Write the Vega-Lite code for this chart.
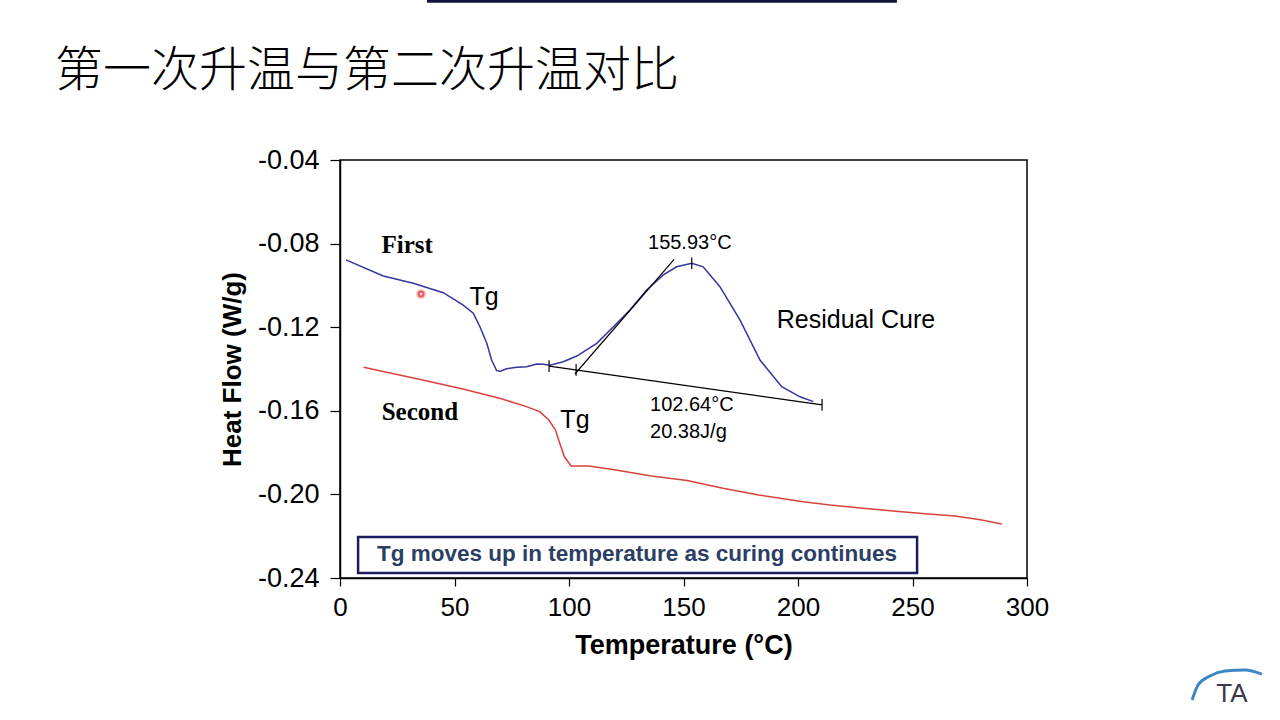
{
  "$schema": "https://vega.github.io/schema/vega-lite/v6.json",
  "width": 687,
  "height": 418,
  "autosize": {"type": "none"},
  "padding": {"left": 340, "top": 160, "right": 253, "bottom": 142},
  "background": "white",
  "config": {
    "view": {"stroke": "black", "strokeWidth": 1.5},
    "axis": {"grid": false, "domainColor": "black", "tickColor": "black", "labelColor": "black", "titleColor": "black", "labelFont": "Liberation Sans", "titleFont": "Liberation Sans", "labelFontSize": 26, "titleFontSize": 26, "titleFontWeight": "bold", "domainWidth": 1.5, "tickWidth": 1.2, "labelFlush": false}
  },
  "datasets": {
    "curves": [
      {"series": "First", "t": 2.6, "hf": -0.0878},
      {"series": "First", "t": 18.9, "hf": -0.0955},
      {"series": "First", "t": 32.0, "hf": -0.0990},
      {"series": "First", "t": 45.1, "hf": -0.1035},
      {"series": "First", "t": 53.8, "hf": -0.1094},
      {"series": "First", "t": 58.2, "hf": -0.1133},
      {"series": "First", "t": 61.1, "hf": -0.1198},
      {"series": "First", "t": 64.1, "hf": -0.1277},
      {"series": "First", "t": 66.2, "hf": -0.1357},
      {"series": "First", "t": 68.4, "hf": -0.1408},
      {"series": "First", "t": 69.9, "hf": -0.1411},
      {"series": "First", "t": 72.8, "hf": -0.1399},
      {"series": "First", "t": 77.2, "hf": -0.1392},
      {"series": "First", "t": 81.5, "hf": -0.1389},
      {"series": "First", "t": 85.9, "hf": -0.1376},
      {"series": "First", "t": 88.8, "hf": -0.1377},
      {"series": "First", "t": 91.7, "hf": -0.1382},
      {"series": "First", "t": 97.5, "hf": -0.1365},
      {"series": "First", "t": 103.4, "hf": -0.1338},
      {"series": "First", "t": 112.1, "hf": -0.1277},
      {"series": "First", "t": 119.4, "hf": -0.1198},
      {"series": "First", "t": 126.6, "hf": -0.1118},
      {"series": "First", "t": 133.9, "hf": -0.1022},
      {"series": "First", "t": 141.2, "hf": -0.0950},
      {"series": "First", "t": 147.0, "hf": -0.0911},
      {"series": "First", "t": 153.6, "hf": -0.0894},
      {"series": "First", "t": 158.6, "hf": -0.0911},
      {"series": "First", "t": 165.9, "hf": -0.1006},
      {"series": "First", "t": 174.7, "hf": -0.1166},
      {"series": "First", "t": 183.4, "hf": -0.1357},
      {"series": "First", "t": 192.9, "hf": -0.1485},
      {"series": "First", "t": 200.9, "hf": -0.1533},
      {"series": "First", "t": 206.7, "hf": -0.1556},
      {"series": "Second", "t": 10.3, "hf": -0.1392},
      {"series": "Second", "t": 34.6, "hf": -0.1449},
      {"series": "Second", "t": 54.1, "hf": -0.1497},
      {"series": "Second", "t": 69.7, "hf": -0.1540},
      {"series": "Second", "t": 81.4, "hf": -0.1580},
      {"series": "Second", "t": 87.2, "hf": -0.1604},
      {"series": "Second", "t": 91.2, "hf": -0.1644},
      {"series": "Second", "t": 94.1, "hf": -0.1692},
      {"series": "Second", "t": 96.0, "hf": -0.1756},
      {"series": "Second", "t": 98.0, "hf": -0.1820},
      {"series": "Second", "t": 100.9, "hf": -0.1864},
      {"series": "Second", "t": 108.7, "hf": -0.1864},
      {"series": "Second", "t": 120.4, "hf": -0.1883},
      {"series": "Second", "t": 136.0, "hf": -0.1912},
      {"series": "Second", "t": 151.6, "hf": -0.1934},
      {"series": "Second", "t": 167.2, "hf": -0.1971},
      {"series": "Second", "t": 182.8, "hf": -0.2003},
      {"series": "Second", "t": 202.3, "hf": -0.2035},
      {"series": "Second", "t": 214.0, "hf": -0.2051},
      {"series": "Second", "t": 229.6, "hf": -0.2067},
      {"series": "Second", "t": 245.2, "hf": -0.2083},
      {"series": "Second", "t": 256.9, "hf": -0.2094},
      {"series": "Second", "t": 268.6, "hf": -0.2103},
      {"series": "Second", "t": 280.3, "hf": -0.2122},
      {"series": "Second", "t": 289.0, "hf": -0.2142}
    ],
    "guides": [
      {"seg": "baseline", "t": 91.3, "hf": -0.1386},
      {"seg": "baseline", "t": 210.5, "hf": -0.1572},
      {"seg": "tangent", "t": 102.6, "hf": -0.1424},
      {"seg": "tangent", "t": 145.9, "hf": -0.0875}
    ],
    "ticks": [
      {"t": 91.3, "y1": -0.1358, "y2": -0.1414},
      {"t": 103.1, "y1": -0.1376, "y2": -0.1432},
      {"t": 210.5, "y1": -0.1544, "y2": -0.1600},
      {"t": 153.6, "y1": -0.0866, "y2": -0.0922}
    ],
    "serifLabels": [
      {"t": 29.3, "hf": -0.0807, "label": "First"},
      {"t": 34.9, "hf": -0.1606, "label": "Second"}
    ],
    "bigLabels": [
      {"t": 62.9, "hf": -0.1055, "label": "Tg"},
      {"t": 102.6, "hf": -0.1644, "label": "Tg"},
      {"t": 225.3, "hf": -0.1166, "label": "Residual Cure"}
    ],
    "smallLabels": [
      {"t": 134.5, "hf": -0.0797, "label": "155.93°C"},
      {"t": 135.4, "hf": -0.1572, "label": "102.64°C"},
      {"t": 135.4, "hf": -0.1701, "label": "20.38J/g"}
    ],
    "noteBox": [
      {"t1": 7.9, "t2": 252.0, "y1": -0.2204, "y2": -0.2376, "tc": 129.7, "yc": -0.2285, "label": "Tg moves up in temperature as curing continues"}
    ],
    "dot": [
      {"t": 35.4, "hf": -0.1041}
    ],
    "topBar": [
      {"t1": 38.0, "t2": 243.2, "y1": 0.0366, "y2": 0.0352}
    ],
    "heading": [
      {"t": -124.5, "hf": 0.0021, "label": "第一次升温与第二次升温对比"}
    ],
    "logoArc": [
      {"t": 372.1, "hf": -0.2984},
      {"t": 374.7, "hf": -0.2912},
      {"t": 379.9, "hf": -0.2869},
      {"t": 386.5, "hf": -0.2845},
      {"t": 395.2, "hf": -0.2840},
      {"t": 402.6, "hf": -0.2860}
    ],
    "logoText": [
      {"t": 389.5, "hf": -0.2955, "label": "TA"}
    ]
  },
  "layer": [
    {
      "data": {"name": "curves"},
      "mark": {"type": "line", "strokeWidth": 1.5},
      "encoding": {
        "x": {"field": "t", "type": "quantitative", "scale": {"domain": [0, 300], "nice": false, "zero": false},
          "axis": {"values": [0, 50, 100, 150, 200, 250, 300], "title": "Temperature (°C)", "titleFontSize": 27, "tickSize": 8, "labelPadding": 8, "titlePadding": 12}},
        "y": {"field": "hf", "type": "quantitative", "scale": {"domain": [-0.24, -0.04], "nice": false, "zero": false},
          "axis": {"values": [-0.24, -0.2, -0.16, -0.12, -0.08, -0.04], "labelExpr": "replace(format(datum.value, '.2f'), '\u2212', '-')", "labelFontSize": 27, "title": "Heat Flow (W/g)", "tickSize": 10, "labelPadding": 11, "titlePadding": 12}},
        "color": {"field": "series", "type": "nominal", "scale": {"domain": ["First", "Second"], "range": ["#3434A2", "#D8423C"]}, "legend": null}
      }
    },
    {
      "data": {"name": "guides"},
      "mark": {"type": "line", "color": "black", "strokeWidth": 1.2},
      "encoding": {
        "x": {"field": "t", "type": "quantitative"},
        "y": {"field": "hf", "type": "quantitative"},
        "detail": {"field": "seg", "type": "nominal"}
      }
    },
    {
      "data": {"name": "ticks"},
      "mark": {"type": "rule", "color": "black", "strokeWidth": 1.2},
      "encoding": {
        "x": {"field": "t", "type": "quantitative"},
        "y": {"field": "y1", "type": "quantitative"},
        "y2": {"field": "y2"}
      }
    },
    {
      "data": {"name": "serifLabels"},
      "mark": {"type": "text", "font": "Liberation Serif", "fontWeight": "bold", "fontSize": 25, "color": "black", "align": "center", "baseline": "middle"},
      "encoding": {
        "x": {"field": "t", "type": "quantitative"},
        "y": {"field": "hf", "type": "quantitative"},
        "text": {"field": "label"}
      }
    },
    {
      "data": {"name": "bigLabels"},
      "mark": {"type": "text", "font": "Liberation Sans", "fontSize": 25, "color": "black", "align": "center", "baseline": "middle"},
      "encoding": {
        "x": {"field": "t", "type": "quantitative"},
        "y": {"field": "hf", "type": "quantitative"},
        "text": {"field": "label"}
      }
    },
    {
      "data": {"name": "smallLabels"},
      "mark": {"type": "text", "font": "Liberation Sans", "fontSize": 20, "color": "black", "align": "left", "baseline": "middle"},
      "encoding": {
        "x": {"field": "t", "type": "quantitative"},
        "y": {"field": "hf", "type": "quantitative"},
        "text": {"field": "label"}
      }
    },
    {
      "data": {"name": "noteBox"},
      "mark": {"type": "rect", "fill": "white", "stroke": "#1C1C5E", "strokeWidth": 2.5},
      "encoding": {
        "x": {"field": "t1", "type": "quantitative"},
        "x2": {"field": "t2"},
        "y": {"field": "y1", "type": "quantitative"},
        "y2": {"field": "y2"}
      }
    },
    {
      "data": {"name": "noteBox"},
      "mark": {"type": "text", "font": "Liberation Sans", "fontWeight": "bold", "fontSize": 22.5, "color": "#2C3E64", "align": "center", "baseline": "middle"},
      "encoding": {
        "x": {"field": "tc", "type": "quantitative"},
        "y": {"field": "yc", "type": "quantitative"},
        "text": {"field": "label"}
      }
    },
    {
      "data": {"name": "dot"},
      "mark": {"type": "point", "filled": true, "color": "#F4A0A0", "opacity": 0.5, "size": 110},
      "encoding": {
        "x": {"field": "t", "type": "quantitative"},
        "y": {"field": "hf", "type": "quantitative"}
      }
    },
    {
      "data": {"name": "dot"},
      "mark": {"type": "point", "filled": false, "stroke": "#E0262A", "strokeWidth": 2, "size": 25},
      "encoding": {
        "x": {"field": "t", "type": "quantitative"},
        "y": {"field": "hf", "type": "quantitative"}
      }
    },
    {
      "data": {"name": "topBar"},
      "mark": {"type": "rect", "color": "#14143A", "clip": false},
      "encoding": {
        "x": {"field": "t1", "type": "quantitative"},
        "x2": {"field": "t2"},
        "y": {"field": "y1", "type": "quantitative"},
        "y2": {"field": "y2"}
      }
    },
    {
      "data": {"name": "heading"},
      "mark": {"type": "text", "font": "Noto Sans CJK SC", "fontSize": 48, "fontWeight": 300, "color": "black", "align": "left", "baseline": "middle", "clip": false},
      "encoding": {
        "x": {"field": "t", "type": "quantitative"},
        "y": {"field": "hf", "type": "quantitative"},
        "text": {"field": "label"}
      }
    },
    {
      "data": {"name": "logoArc"},
      "mark": {"type": "line", "color": "#3D86C6", "strokeWidth": 3, "interpolate": "monotone", "clip": false},
      "encoding": {
        "x": {"field": "t", "type": "quantitative"},
        "y": {"field": "hf", "type": "quantitative"}
      }
    },
    {
      "data": {"name": "logoText"},
      "mark": {"type": "text", "font": "Liberation Sans", "fontSize": 26, "color": "#3A3A4A", "align": "center", "baseline": "middle", "clip": false},
      "encoding": {
        "x": {"field": "t", "type": "quantitative"},
        "y": {"field": "hf", "type": "quantitative"},
        "text": {"field": "label"}
      }
    }
  ]
}
